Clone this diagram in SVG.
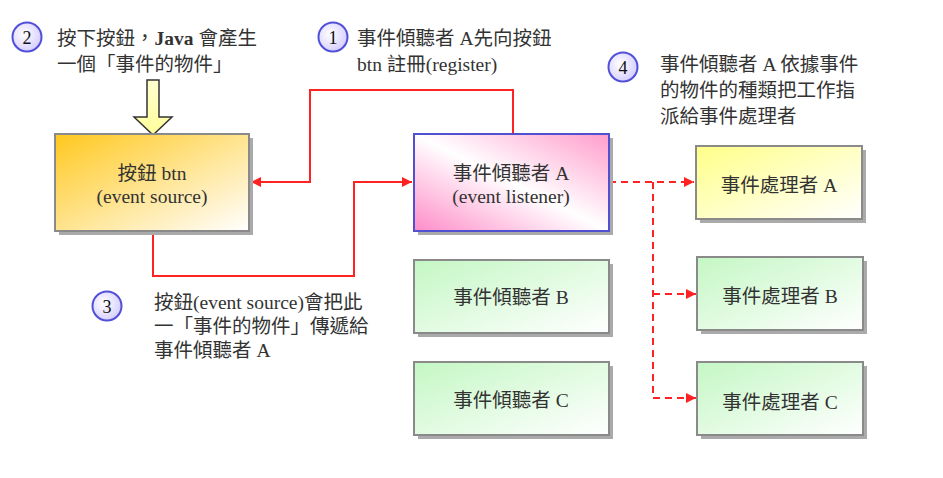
<svg xmlns="http://www.w3.org/2000/svg" width="943" height="478" viewBox="0 0 943 478">
<style>
text{font-family:"Liberation Serif","Noto Sans CJK TC",serif;font-size:19.5px;fill:#333}
.c{text-anchor:middle}
.num{font-size:18px;fill:#111;text-anchor:middle}
.shadow{fill:#aaa}
.box{stroke:#8a8a8a;stroke-width:2}
.red{fill:none;stroke:#f22;stroke-width:2}
.dash{fill:none;stroke:#f22;stroke-width:2;stroke-dasharray:7,5}
.circ{fill:url(#gc);stroke:#5050d8;stroke-width:2}
</style>
<defs>
<linearGradient id="go" x1="0" y1="0" x2="1" y2="1"><stop offset="0" stop-color="#ffc81e"/><stop offset="1" stop-color="#ffffff"/></linearGradient>
<linearGradient id="gp" x1="0" y1="1" x2="1" y2="0"><stop offset="0" stop-color="#ff8cc8"/><stop offset="0.5" stop-color="#ffffff"/><stop offset="1" stop-color="#ff9ccc"/></linearGradient>
<linearGradient id="gy" x1="0" y1="0" x2="1" y2="1"><stop offset="0" stop-color="#ffff88"/><stop offset="1" stop-color="#ffffff"/></linearGradient>
<linearGradient id="gg" x1="0" y1="0" x2="1" y2="1"><stop offset="0" stop-color="#c4f7c4"/><stop offset="1" stop-color="#ffffff"/></linearGradient>
<radialGradient id="gc" cx="0.4" cy="0.4" r="0.6"><stop offset="0" stop-color="#ffffff"/><stop offset="1" stop-color="#d8d0ff"/></radialGradient>
<linearGradient id="gar" x1="0" y1="0" x2="0" y2="1"><stop offset="0" stop-color="#ffffd0"/><stop offset="1" stop-color="#ffff9a"/></linearGradient>
<marker id="ah" viewBox="0 0 10 10" refX="10" refY="5" markerWidth="10" markerHeight="10" markerUnits="userSpaceOnUse" orient="auto"><path d="M0,0 L10,5 L0,10 z" fill="#f22"/></marker>
</defs>

<g id="connectors">
<path class="red" d="M513,134 V90 H310 V182 H251" marker-end="url(#ah)"/>
<path class="red" d="M153,231 V276 H354 V182 H412" marker-end="url(#ah)"/>
<path class="dash" d="M609,182 H694" marker-end="url(#ah)"/>
<path class="dash" d="M653,182 V398"/>
<path class="dash" d="M653,294 H696" marker-end="url(#ah)"/>
<path class="dash" d="M653,398 H696" marker-end="url(#ah)"/>
<polygon id="event-arrow" points="147,80 159,80 159,117 172,117 153,135 134,117 147,117" fill="url(#gar)" stroke="#333" stroke-width="1.5" stroke-linejoin="miter"/>
</g>

<g id="btn">
<rect class="shadow" x="59" y="138" width="194" height="97"/>
<rect class="box" x="55" y="134" width="194" height="97" fill="url(#go)"/>
<text class="c" x="152" y="180">按鈕 btn</text>
<text class="c" x="152" y="203">(event source)</text>
</g>

<g id="listenerA">
<rect class="shadow" x="418" y="138" width="195" height="97"/>
<rect x="414" y="134" width="195" height="97" fill="url(#gp)" stroke="#5050d0" stroke-width="2"/>
<text class="c" x="511" y="180">事件傾聽者 A</text>
<text class="c" x="511" y="203">(event listener)</text>
</g>

<g id="listenerB">
<rect class="shadow" x="418" y="264" width="195" height="73"/>
<rect class="box" x="414" y="260" width="195" height="73" fill="url(#gg)"/>
<text class="c" x="511" y="304">事件傾聽者 B</text>
</g>

<g id="listenerC">
<rect class="shadow" x="418" y="366" width="195" height="73"/>
<rect class="box" x="414" y="362" width="195" height="73" fill="url(#gg)"/>
<text class="c" x="511" y="407">事件傾聽者 C</text>
</g>

<g id="handlerA">
<rect class="shadow" x="700" y="150" width="166" height="73"/>
<rect class="box" x="696" y="146" width="166" height="73" fill="url(#gy)"/>
<text class="c" x="779" y="192">事件處理者 A</text>
</g>

<g id="handlerB">
<rect class="shadow" x="701" y="261" width="166" height="73"/>
<rect class="box" x="697" y="257" width="166" height="73" fill="url(#gg)"/>
<text class="c" x="780" y="303">事件處理者 B</text>
</g>

<g id="handlerC">
<rect class="shadow" x="701" y="366" width="166" height="73"/>
<rect class="box" x="697" y="362" width="166" height="73" fill="url(#gg)"/>
<text class="c" x="780" y="409">事件處理者 C</text>
</g>

<g id="note2">
<circle class="circ" cx="27" cy="37" r="14.5"/>
<text class="num" x="27" y="43.5">2</text>
<text x="57" y="45">按下按鈕，<tspan font-weight="bold">Java</tspan> 會產生</text>
<text x="57" y="71">一個「事件的物件」</text>
</g>

<g id="note1">
<circle class="circ" cx="333" cy="37" r="14.5"/>
<text class="num" x="333" y="43.5">1</text>
<text x="357" y="45">事件傾聽者 A先向按鈕</text>
<text x="357" y="71">btn 註冊(register)</text>
</g>

<g id="note4">
<circle class="circ" cx="623" cy="67" r="14.5"/>
<text class="num" x="623" y="73.5">4</text>
<text x="660" y="71">事件傾聽者 A 依據事件</text>
<text x="660" y="97">的物件的種類把工作指</text>
<text x="660" y="123">派給事件處理者</text>
</g>

<g id="note3">
<circle class="circ" cx="107" cy="306" r="14.5"/>
<text class="num" x="107" y="312.5">3</text>
<text x="154" y="309">按鈕(event source)會把此</text>
<text x="154" y="333">一「事件的物件」傳遞給</text>
<text x="154" y="357">事件傾聽者 A</text>
</g>
</svg>
